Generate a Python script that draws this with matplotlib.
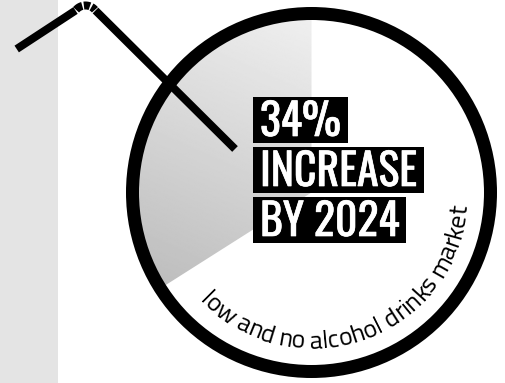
import numpy as np
import matplotlib
matplotlib.use("Agg")
import matplotlib.pyplot as plt
import matplotlib.patheffects as pe
from matplotlib.patches import Circle, Wedge, Rectangle
from matplotlib.font_manager import FontProperties
from matplotlib.textpath import TextToPath

# data
share_pct = 34
headline = ["34%", "INCREASE", "BY 2024"]
arc_label = "low and no alcohol drinks market"

W, H = 505, 383
fig = plt.figure(figsize=(W / 100, H / 100), dpi=100)
ax = fig.add_axes([0, 0, 1, 1])
ax.set_xlim(0, W)
ax.set_ylim(H, 0)
ax.axis("off")
px = 0.72  # points per pixel at dpi 100

# grey band on the left
ax.add_patch(Rectangle((0, 0), 58, H, color="#e4e4e4", lw=0, zorder=0))

# circle + pie slice (starts at 12 o'clock, runs anticlockwise)
cx, cy, r = 311.5, 192.5, 179
sweep = share_pct / 100 * 360
wedge = Wedge((cx, cy), r, 270 - sweep, 270, transform=ax.transData)
xx, yy = np.meshgrid(np.linspace(cx - r, cx + r, 300), np.linspace(cy - r, cy + r, 300))
d = np.array([-0.45, 1.0]) / np.hypot(-0.45, 1.0)
proj = (xx - cx) * d[0] + (yy - cy) * d[1]
p0 = (311 - cx) * d[0] + (15 - cy) * d[1]
p1 = (166 - cx) * d[0] + (285 - cy) * d[1]
t = np.clip((proj - p0) / (p1 - p0), 0, 1)
shade = 0.94 - t * (0.94 - 0.745)
img = ax.imshow(shade, cmap="gray", vmin=0, vmax=1, extent=(cx - r, cx + r, cy + r, cy - r),
                interpolation="bilinear", zorder=1)
img.set_clip_path(wedge)
ax.add_patch(Circle((cx, cy), r, fill=False, ec="black", lw=13 * px, zorder=3))

# the straw
straw_lw = 8 * px
ax.plot([16.7, 75.5], [49, 10.5], color="black", lw=straw_lw, solid_capstyle="butt", zorder=4)
ax.plot([95.5, 235], [10.5, 149], color="black", lw=straw_lw, solid_capstyle="butt", zorder=4)
bx, by, br = 85.5, 18, 12.5
for a0, a1 in [(105, 139), (69.5, 97.5), (41, 61.4)]:
    tt = np.radians(np.linspace(a0, a1, 20))
    ax.plot(bx + br * np.cos(tt), by - br * np.sin(tt), color="black", lw=straw_lw,
            solid_capstyle="butt", zorder=4)

# headline blocks: black box behind each line
fig.canvas.draw()
renderer = fig.canvas.get_renderer()
for i, line in enumerate(headline):
    base = 136 + 50 * i
    txt = ax.text(260, base, line, family="Oswald", fontsize=31.5, color="white",
                  ha="left", va="baseline", zorder=6,
                  path_effects=[pe.withStroke(linewidth=0.5, foreground="white")])
    ext = txt.get_window_extent(renderer)
    ax.add_patch(Rectangle((253, base - 39), ext.x1 - 253 + 7, 45.5,
                           fc="black", ec="none", zorder=5))

# text along the circle
fam = ["Titillium Web", "Open Sans", "DejaVu Sans"]
fp = FontProperties(family=fam, size=10)
ttp = TextToPath()
def width(s):
    return ttp.get_text_width_height_descent(s, fp, ismath=False)[0]
rb = 156
phi_start, phi_end = 136.0, 5.0
arc_len = np.radians(phi_start - phi_end) * rb
scale = arc_len / width(arc_label)
fs = 10 * scale * px
for i, ch in enumerate(arc_label):
    if ch == " ":
        continue
    s_mid = (width(arc_label[:i]) + width(ch) / 2) * scale
    phi = phi_start - np.degrees(s_mid / rb)
    ax.text(cx + rb * np.cos(np.radians(phi)), cy + rb * np.sin(np.radians(phi)), ch,
            family=fam, fontsize=fs, rotation=90 - phi, rotation_mode="anchor",
            ha="center", va="baseline", color="black", zorder=6)

fig.savefig("out.png", dpi=100)
